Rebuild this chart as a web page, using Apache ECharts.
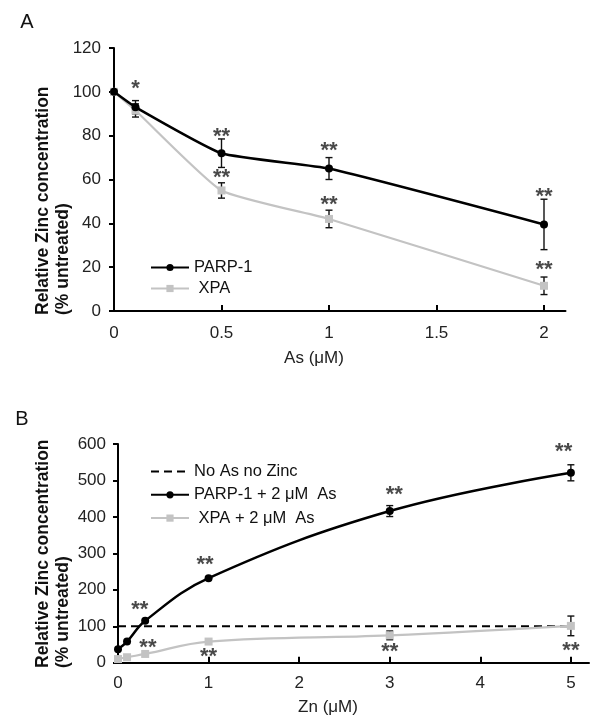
<!DOCTYPE html>
<html><head><meta charset="utf-8">
<script src="https://cdn.jsdelivr.net/npm/echarts@6/dist/echarts.min.js"></script>
<style>html,body{margin:0;padding:0;background:#fff}#c{width:601px;height:725px}</style>
</head><body><div id="c"></div>
<script>
// ---------- Panel A data ----------
const asDose = [0, 0.1, 0.5, 1, 2];
const parpA = [100, 93, 72, 65, 39.5];
const parpAErr = [0, 3, 6.5, 5, 11.5];
const xpaA = [100, 91.5, 55, 42, 11.5];
const xpaAErr = [0, 3, 3.5, 4, 4];
const xTicksA = [0, 0.5, 1, 1.5, 2];
// significance marks (x, y value, text)
const starsAx = [0.1, 0.5, 0.5, 1, 1, 2, 2];
const starsAy = [103.4, 81.8, 63, 75.4, 50.6, 54.4, 21];
const starsAt = ['*', '**', '**', '**', '**', '**', '**'];

// ---------- Panel B data ----------
const znDose = [0, 0.1, 0.3, 1, 3, 5];
const parpB = [37, 58, 115, 232, 416, 521];
const parpBErr = [0, 0, 0, 0, 15, 22];
const xpaB = [10, 15, 24, 58, 75, 101];
const xpaBErr = [0, 0, 0, 0, 12, 27];
const controlX = [0, 5];
const controlY = [100, 100];
const xTicksB = [0, 1, 2, 3, 4, 5];
const starsBx = [0.24, 0.33, 1.0, 0.96, 3.05, 3.0, 4.92, 5.0];
const starsBy = [158, 55, 30, 282, 474, 44, 593, 46];
const starsBt = ['**', '**', '**', '**', '**', '**', '**', '**'];

const FF = '"Liberation Sans", Arial, sans-serif';
const BLACK = '#000000';
const GRAY = '#c3c3c3';

function zip2(a, b) { return a.map((v, i) => [v, b[i]]); }
function zip3(a, b, c) { return a.map((v, i) => [v, b[i], c[i]]); }

function errRender(params, api) {
  const x = api.value(0), y = api.value(1), e = api.value(2);
  if (!e) return null;
  const t = api.coord([x, y + e]), b = api.coord([x, y - e]);
  const w = 3.5;
  const st = { stroke: '#111', lineWidth: 1.4 };
  return { type: 'group', children: [
    { type: 'line', shape: { x1: t[0], y1: t[1], x2: b[0], y2: b[1] }, style: st },
    { type: 'line', shape: { x1: t[0] - w, y1: t[1], x2: t[0] + w, y2: t[1] }, style: st },
    { type: 'line', shape: { x1: b[0] - w, y1: b[1], x2: b[0] + w, y2: b[1] }, style: st }
  ]};
}

function starSeries(xi, yi, xs, ys, ts) {
  return {
    type: 'scatter', xAxisIndex: xi, yAxisIndex: yi, symbolSize: 0, silent: true,
    data: zip3(xs, ys, ts),
    label: { show: true, position: 'inside', offset: [0, 5], formatter: p => p.value[2],
      fontSize: 22, fontWeight: 'bold', fontFamily: FF, color: '#1a1a1a' },
    z: 5
  };
}

const axisLabelStyle = { fontSize: 17, fontFamily: FF, color: '#222' };

const option = {
  animation: false,
  backgroundColor: '#fff',
  grid: [
    { left: 114, top: 48, width: 451.5, height: 263 },
    { left: 118, top: 444, width: 471, height: 218.7 }
  ],
  xAxis: [
    { gridIndex: 0, type: 'value', min: 0, max: 2.1, splitLine: { show: false },
      axisLine: { lineStyle: { color: BLACK, width: 2 } },
      axisTick: { inside: true, length: 6, lineStyle: { width: 2, color: BLACK }, customValues: xTicksA },
      axisLabel: Object.assign({ margin: 14, customValues: xTicksA }, axisLabelStyle) },
    { gridIndex: 1, type: 'value', min: 0, max: 5.2, splitLine: { show: false },
      axisLine: { lineStyle: { color: BLACK, width: 2 } },
      axisTick: { inside: true, length: 6, lineStyle: { width: 2, color: BLACK }, customValues: xTicksB },
      axisLabel: Object.assign({ margin: 12, customValues: xTicksB }, axisLabelStyle) }
  ],
  yAxis: [
    { gridIndex: 0, type: 'value', min: 0, max: 120, interval: 20, splitLine: { show: false },
      axisLine: { show: true, lineStyle: { color: BLACK, width: 2 } },
      axisTick: { show: true, length: 5, lineStyle: { width: 2, color: BLACK } },
      axisLabel: Object.assign({ margin: 13 }, axisLabelStyle) },
    { gridIndex: 1, type: 'value', min: 0, max: 600, interval: 100, splitLine: { show: false },
      axisLine: { show: true, lineStyle: { color: BLACK, width: 2 } },
      axisTick: { show: true, length: 5, lineStyle: { width: 2, color: BLACK } },
      axisLabel: Object.assign({ margin: 12 }, axisLabelStyle) }
  ],
  legend: [
    { left: 145, top: 254, orient: 'vertical', itemWidth: 38, itemHeight: 9, itemGap: 4,
      data: ['PARP-1', 'XPA'],
      formatter: n => n.startsWith('XPA') ? ' ' + n : n,
      textStyle: { fontSize: 16.5, fontFamily: FF, color: '#111' } },
    { left: 145, top: 458, orient: 'vertical', itemWidth: 38, itemHeight: 9, itemGap: 6.3,
      data: [{ name: 'No As no Zinc', itemStyle: { opacity: 0 } }, 'PARP-1 + 2 μM  As', 'XPA + 2 μM  As'],
      formatter: n => n.startsWith('XPA') ? ' ' + n : n,
      textStyle: { fontSize: 16.5, fontFamily: FF, color: '#111' } }
  ],
  series: [
    // Panel A
    { name: 'PARP-1', type: 'line', xAxisIndex: 0, yAxisIndex: 0, data: zip2(asDose, parpA),
      smooth: 0.15, symbol: 'circle', symbolSize: 8, color: BLACK,
      lineStyle: { color: BLACK, width: 2.5 }, itemStyle: { color: BLACK }, z: 4 },
    { name: 'XPA', type: 'line', xAxisIndex: 0, yAxisIndex: 0, data: zip2(asDose, xpaA),
      smooth: 0.15, symbol: 'rect', symbolSize: 8, color: GRAY,
      lineStyle: { color: GRAY, width: 2.2 }, itemStyle: { color: GRAY }, z: 3 },
    { type: 'custom', xAxisIndex: 0, yAxisIndex: 0, renderItem: errRender,
      data: zip3(asDose, parpA, parpAErr), z: 2, silent: true },
    { type: 'custom', xAxisIndex: 0, yAxisIndex: 0, renderItem: errRender,
      data: zip3(asDose, xpaA, xpaAErr), z: 2, silent: true },
    starSeries(0, 0, starsAx, starsAy, starsAt),
    // Panel B
    { name: 'No As no Zinc', type: 'line', xAxisIndex: 1, yAxisIndex: 1, data: zip2(controlX, controlY),
      symbol: 'none', color: BLACK, lineStyle: { color: BLACK, width: 2, type: [8, 5] }, z: 2 },
    { name: 'PARP-1 + 2 μM  As', type: 'line', xAxisIndex: 1, yAxisIndex: 1, data: zip2(znDose, parpB),
      smooth: 0.4, symbol: 'circle', symbolSize: 8, color: BLACK,
      lineStyle: { color: BLACK, width: 2.5 }, itemStyle: { color: BLACK }, z: 4 },
    { name: 'XPA + 2 μM  As', type: 'line', xAxisIndex: 1, yAxisIndex: 1, data: zip2(znDose, xpaB),
      smooth: 0.4, symbol: 'rect', symbolSize: 8, color: GRAY,
      lineStyle: { color: GRAY, width: 2.2 }, itemStyle: { color: GRAY }, z: 3 },
    { type: 'custom', xAxisIndex: 1, yAxisIndex: 1, renderItem: errRender,
      data: zip3(znDose, parpB, parpBErr), z: 2, silent: true },
    { type: 'custom', xAxisIndex: 1, yAxisIndex: 1, renderItem: errRender,
      data: zip3(znDose, xpaB, xpaBErr), z: 2, silent: true },
    starSeries(1, 1, starsBx, starsBy, starsBt)
  ],
  graphic: [
    { type: 'text', x: 27, y: 22, style: { text: 'A', fontSize: 20, fontFamily: FF, fill: '#111', align: 'center', verticalAlign: 'middle' } },
    { type: 'text', x: 22, y: 419, style: { text: 'B', fontSize: 20, fontFamily: FF, fill: '#111', align: 'center', verticalAlign: 'middle' } },
    { type: 'text', x: 43, y: 315, rotation: Math.PI / 2, style: { text: 'Relative Zinc concentration', fontSize: 17.5, fontWeight: 'bold', fontFamily: FF, fill: '#111', align: 'left', verticalAlign: 'middle' } },
    { type: 'text', x: 63, y: 315, rotation: Math.PI / 2, style: { text: '(% untreated)', fontSize: 17.5, fontWeight: 'bold', fontFamily: FF, fill: '#111', align: 'left', verticalAlign: 'middle' } },
    { type: 'text', x: 43, y: 668, rotation: Math.PI / 2, style: { text: 'Relative Zinc concentration', fontSize: 17.5, fontWeight: 'bold', fontFamily: FF, fill: '#111', align: 'left', verticalAlign: 'middle' } },
    { type: 'text', x: 63, y: 668, rotation: Math.PI / 2, style: { text: '(% untreated)', fontSize: 17.5, fontWeight: 'bold', fontFamily: FF, fill: '#111', align: 'left', verticalAlign: 'middle' } },
    { type: 'text', x: 314, y: 358, style: { text: 'As (μM)', fontSize: 17, fontFamily: FF, fill: '#222', align: 'center', verticalAlign: 'middle' } },
    { type: 'text', x: 328, y: 707, style: { text: 'Zn (μM)', fontSize: 17, fontFamily: FF, fill: '#222', align: 'center', verticalAlign: 'middle' } }
  ]
};
const chart = echarts.init(document.getElementById('c'), null, { renderer: 'canvas' });
chart.setOption(option);
</script>
</body></html>
